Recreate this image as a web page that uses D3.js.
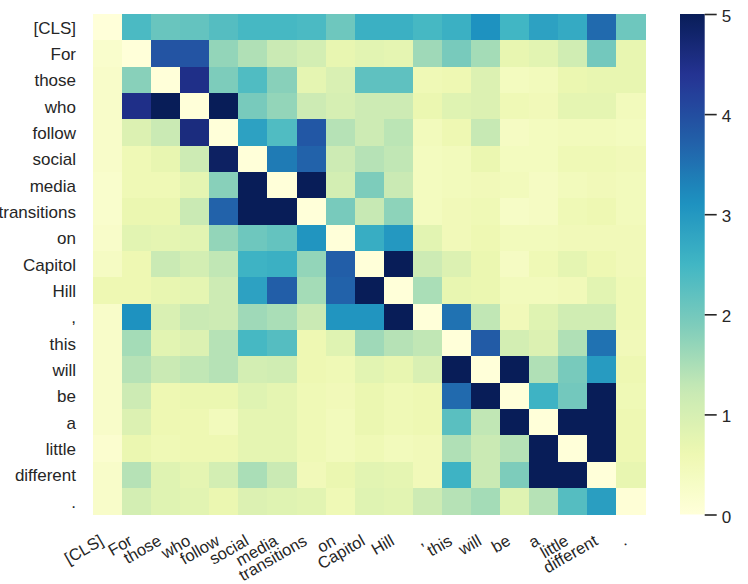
<!DOCTYPE html>
<html>
<head>
<meta charset="utf-8">
<script src="https://cdn.jsdelivr.net/npm/d3@7"></script>
<style>
  html, body { margin: 0; padding: 0; background: #ffffff; }
  svg { display: block; }
  text { font-family: Arial, "Liberation Sans", Helvetica, sans-serif; fill: #262626; }
</style>
</head>
<body>
<svg id="chart" width="748" height="584"></svg>
<script>
// ---- data ----
const tokens = ["[CLS]", "For", "those", "who", "follow", "social", "media", "transitions", "on", "Capitol", "Hill", ",", "this", "will", "be", "a", "little", "different", "."];

const row_CLS         = [0, 2.4, 2.1, 2.15, 2.3, 2.45, 2.45, 2.4, 2.05, 2.6, 2.6, 2.45, 2.6, 3.1, 2.5, 2.85, 2.7, 3.6, 2.05];
const row_For         = [0.2, 0, 3.9, 3.9, 1.7, 1.45, 1.2, 1.05, 0.7, 0.8, 0.75, 1.6, 1.95, 1.55, 0.7, 0.8, 1.1, 2.0, 0.7];
const row_those       = [0.25, 1.8, 0, 4.5, 1.9, 2.35, 1.8, 0.75, 0.95, 2.2, 2.2, 0.55, 0.6, 0.9, 0.4, 0.45, 0.65, 0.7, 0.7];
const row_who         = [0.25, 4.5, 5.5, 0, 5.5, 1.95, 1.7, 1.15, 1.0, 1.15, 1.15, 0.65, 0.85, 0.9, 0.55, 0.5, 0.75, 0.75, 0.45];
const row_follow      = [0.25, 0.9, 1.2, 4.6, 0, 2.85, 2.35, 3.85, 1.4, 1.15, 1.35, 0.45, 0.6, 1.25, 0.35, 0.4, 0.45, 0.45, 0.4];
const row_social      = [0.25, 0.55, 0.7, 1.15, 4.9, 0, 3.4, 3.7, 1.15, 1.4, 1.3, 0.4, 0.45, 0.65, 0.4, 0.4, 0.55, 0.55, 0.5];
const row_media       = [0.2, 0.55, 0.55, 0.75, 1.8, 5.5, 0, 5.5, 1.05, 1.9, 1.2, 0.4, 0.45, 0.5, 0.45, 0.35, 0.45, 0.5, 0.45];
const row_transitions = [0.2, 0.65, 0.65, 1.2, 3.7, 5.5, 5.5, 0, 1.95, 1.25, 1.75, 0.4, 0.5, 0.55, 0.3, 0.35, 0.55, 0.6, 0.45];
const row_on          = [0.25, 0.8, 0.75, 0.8, 1.7, 2.05, 2.15, 3.05, 0, 2.65, 3.0, 0.8, 0.5, 0.6, 0.45, 0.45, 0.5, 0.5, 0.5];
const row_Capitol     = [0.35, 0.6, 1.2, 1.05, 1.3, 2.55, 2.6, 1.7, 3.75, 0, 5.5, 1.15, 0.9, 0.65, 0.35, 0.55, 0.75, 0.6, 0.5];
const row_Hill        = [0.6, 0.6, 0.7, 0.75, 1.15, 2.85, 3.75, 1.55, 3.7, 5.5, 0, 1.5, 0.7, 0.65, 0.45, 0.45, 0.5, 0.8, 0.55];
const row_comma       = [0.25, 3.1, 0.95, 1.2, 1.15, 1.6, 1.5, 1.2, 3.05, 3.05, 5.5, 0, 3.5, 1.3, 0.5, 0.85, 1.1, 1.1, 0.55];
const row_this        = [0.25, 1.55, 0.8, 0.9, 1.4, 2.45, 2.3, 0.6, 0.85, 1.6, 1.4, 1.3, 0, 3.8, 1.05, 0.9, 1.45, 3.5, 0.5];
const row_will        = [0.25, 1.4, 1.2, 1.3, 1.4, 1.05, 1.1, 0.6, 0.55, 0.8, 0.7, 0.95, 5.5, 0, 5.5, 1.45, 1.95, 2.95, 0.6];
const row_be          = [0.25, 1.15, 0.6, 0.65, 0.65, 0.85, 0.75, 0.55, 0.5, 0.65, 0.55, 0.6, 3.6, 5.5, 0, 2.55, 2.0, 5.5, 0.55];
const row_a           = [0.25, 0.9, 0.6, 0.6, 0.45, 0.75, 0.75, 0.55, 0.45, 0.65, 0.55, 0.6, 2.25, 1.3, 5.5, 0, 5.5, 5.5, 0.6];
const row_little      = [0.15, 0.65, 0.55, 0.6, 0.6, 0.75, 0.75, 0.55, 0.45, 0.55, 0.45, 0.5, 1.45, 1.2, 1.4, 5.5, 0, 5.5, 0.6];
const row_different   = [0.25, 1.4, 0.85, 0.75, 1.05, 1.5, 1.2, 0.5, 0.65, 0.8, 0.75, 0.5, 2.55, 1.2, 1.9, 5.5, 5.5, 0, 0.7];
const row_period      = [0.25, 1.05, 0.85, 0.8, 0.65, 0.9, 0.85, 0.8, 0.55, 0.85, 0.8, 1.15, 1.4, 1.55, 0.85, 1.4, 2.3, 2.9, 0.05];

const colorbarTicks = [0, 1, 2, 3, 4, 5];
const colorDomain = [0, 5];

// ---- build ----
const rows = [row_CLS, row_For, row_those, row_who, row_follow, row_social, row_media, row_transitions,
  row_on, row_Capitol, row_Hill, row_comma, row_this, row_will, row_be, row_a, row_little, row_different, row_period];

const cells = [];
rows.forEach((r, i) => r.forEach((v, j) => cells.push({ row: tokens[i], col: tokens[j], value: v })));

const svg = d3.select("#chart");
const margin = { left: 93, top: 14, right: 102.5, bottom: 69.5 };
const W = 748, H = 584;
const plotW = W - margin.left - margin.right;
const plotH = H - margin.top - margin.bottom;

const x = d3.scaleBand().domain(tokens).range([margin.left, margin.left + plotW]).padding(0);
const y = d3.scaleBand().domain(tokens).range([margin.top, margin.top + plotH]).padding(0);

// matplotlib-style YlGnBu: linear through the 9 ColorBrewer colours
const pal = d3.schemeYlGnBu[9];
const color = d3.scaleLinear()
  .domain(pal.map((_, i) => colorDomain[0] + i * (colorDomain[1] - colorDomain[0]) / (pal.length - 1)))
  .range(pal)
  .interpolate(d3.interpolateRgb)
  .clamp(true);

svg.append("g")
  .selectAll("rect")
  .data(cells)
  .join("rect")
  .attr("x", d => x(d.col))
  .attr("y", d => y(d.row))
  .attr("width", x.bandwidth() + 0.4)
  .attr("height", y.bandwidth() + 0.4)
  .attr("fill", d => color(d.value))
  .attr("shape-rendering", "crispEdges");

// y axis labels
const yAxis = d3.axisLeft(y).tickSize(0).tickPadding(17);
const gy = svg.append("g").attr("transform", `translate(${margin.left},0)`).call(yAxis);
gy.select(".domain").remove();
gy.selectAll("text")
  .style("font-size", "17px")
  .attr("fill", "#262626")
  .attr("dy", null)
  .attr("dominant-baseline", "alphabetic")
  .attr("y", 6.5)
  .attr("font-family", "Arial, 'Liberation Sans', sans-serif");

// x axis labels (rotated 30°, right-aligned at tick)
const xAxis = d3.axisBottom(x).tickSize(0);
const gx = svg.append("g").attr("transform", `translate(0,${margin.top + plotH})`).call(xAxis);
gx.select(".domain").remove();
gx.selectAll("text")
  .style("font-size", "16.5px")
  .attr("fill", "#262626")
  .attr("font-family", "Arial, 'Liberation Sans', sans-serif")
  .attr("text-anchor", "end")
  .attr("dy", null)
  .attr("y", null)
  .attr("transform", "translate(-3,29.5) rotate(-30)");

// colorbar
const cbX = 680, cbW = 24.7;
const cScale = d3.scaleLinear().domain(colorDomain).range([margin.top + plotH, margin.top]);
const defs = svg.append("defs");
const grad = defs.append("linearGradient").attr("id", "cbgrad")
  .attr("x1", 0).attr("y1", 1).attr("x2", 0).attr("y2", 0);
d3.range(0, 1.0001, 0.02).forEach(t => {
  grad.append("stop").attr("offset", t).attr("stop-color", color(colorDomain[0] + t * (colorDomain[1] - colorDomain[0])));
});
svg.append("rect")
  .attr("x", cbX).attr("y", cScale(colorDomain[1]))
  .attr("width", cbW).attr("height", cScale(colorDomain[0]) - cScale(colorDomain[1]))
  .attr("fill", "url(#cbgrad)");

const cbAxis = d3.axisRight(cScale).tickValues(colorbarTicks).tickSize(12).tickPadding(5).tickFormat(d3.format("d"));
const gc = svg.append("g").attr("transform", `translate(${cbX + cbW},0)`).call(cbAxis);
gc.select(".domain").remove();
gc.selectAll("line").attr("stroke", "#262626").attr("stroke-width", 1.6);
gc.selectAll("text")
  .style("font-size", "17px")
  .attr("fill", "#262626")
  .attr("font-family", "Arial, 'Liberation Sans', sans-serif")
  .attr("dy", null)
  .attr("y", 7.5);
</script>
</body>
</html>
